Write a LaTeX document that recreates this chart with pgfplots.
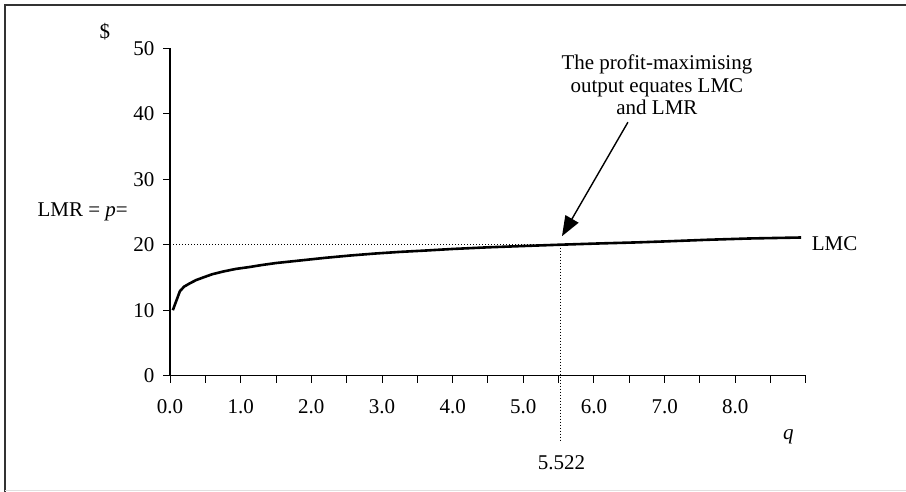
\documentclass[border=0pt]{standalone}
\usepackage{fontspec}
\setmainfont{Liberation Serif}
\usepackage{pgfplots}
\pgfplotsset{compat=1.18}
\usetikzlibrary{arrows.meta}
\begin{document}
\begin{tikzpicture}[font=\fontsize{21bp}{22.5bp}\selectfont]
\useasboundingbox (0,0) rectangle (906bp,-492bp);
\draw[line width=1.5bp, black!80] (5bp,-492bp) -- (5bp,-5bp) -- (906bp,-5bp);
\draw[line width=1bp, black!12] (5bp,-490.5bp) -- (906bp,-490.5bp);
\begin{axis}[
  at={(170bp,-375.7bp)}, anchor=south west,
  scale only axis, width=636bp, height=327.5bp,
  xmin=0, xmax=9, ymin=0, ymax=50,
  axis x line=bottom, axis y line=left,
  axis line style={-, line width=1.1bp},
  tick align=outside, major tick length=7bp,
  tick style={line width=1bp, black},
  xtick={0,0.5,1,1.5,2,2.5,3,3.5,4,4.5,5,5.5,6,6.5,7,7.5,8,8.5,9},
  xticklabels={0.0,,1.0,,2.0,,3.0,,4.0,,5.0,,6.0,,7.0,,8.0,,},
  ytick={0,10,20,30,40,50},
  yticklabels={0,10,20,30,40,50},
  xticklabel style={yshift=-13bp},
  yticklabel style={xshift=-5bp},
  clip=false,
]
% LMC curve
\addplot[black, line width=2.6bp, line join=round] coordinates {
(0.04,10.0) (0.14,12.9) (0.2,13.6) (0.28,14.1) (0.37,14.6) (0.47,15.0) (0.6,15.5) (0.75,15.9)
(0.93,16.3) (1.13,16.6) (1.3,16.9) (1.5,17.2) (1.85,17.6) (2.2,18.0) (2.55,18.35)
(2.9,18.65) (3.25,18.9) (3.6,19.1) (4.0,19.35) (4.5,19.6) (5.0,19.8) (5.522,20.0)
(6.1,20.2) (6.6,20.35) (7.0,20.5) (7.6,20.75) (8.2,20.95) (8.93,21.1)};
% dotted LMR line and drop line
\addplot[black, line width=1.3bp, dash pattern=on 1.3bp off 1.7bp] coordinates {(0,20) (5.522,20)};
\addplot[black, line width=1.3bp, dash pattern=on 1.3bp off 1.7bp] coordinates {(5.522,20) (5.522,-9.8)};
% arrow
\draw[black, line width=1.4bp, -{Triangle[length=20bp,width=15bp]}] (axis cs:6.48,38.7) -- (axis cs:5.547,21.3);
% texts
\node at (axis cs:-0.92,52.5) {\$};
\node[anchor=east, inner sep=0pt] at (axis cs:-0.594,25) {LMR = \textit{p}=};
\node[anchor=west, inner sep=0pt] at (axis cs:9.08,20.2) {LMC};
\node at (axis cs:8.75,-9.36) {\textit{q}};
\node at (axis cs:5.54,-13.3) {5.522};
\node[align=center] at (axis cs:6.89,44.4) {The profit-maximising\\output equates LMC\\and LMR};
\end{axis}
\end{tikzpicture}
\end{document}
